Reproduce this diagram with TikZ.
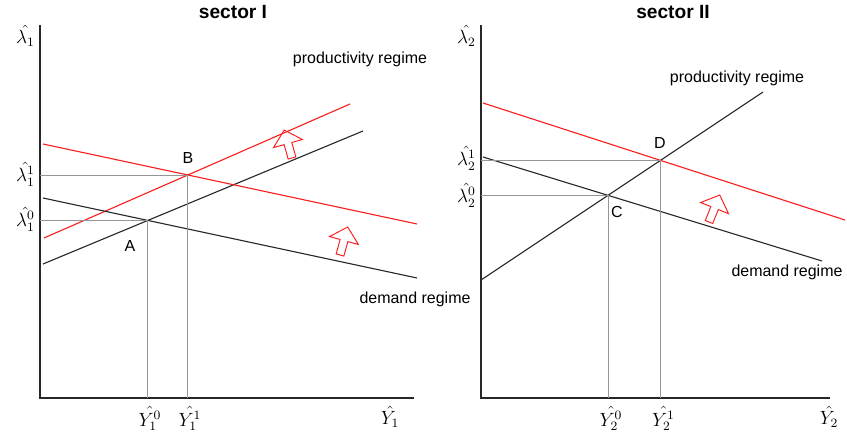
\documentclass[tikz,border=0pt]{standalone}
\usepackage{fontspec}
\setmainfont{Liberation Sans}
\usepackage{amsmath}
\usetikzlibrary{intersections, calc}
\definecolor{cShift}{RGB}{250,30,30}
\definecolor{cBase}{RGB}{40,40,40}
\definecolor{cGuide}{RGB}{150,150,150}
\tikzset{
    axis/.style={line width=0.9pt, draw=cBase},
    regime/.style={line width=0.7pt, draw=cBase},
    shifted/.style={line width=0.7pt, draw=cShift},
    guide/.style={line width=0.6pt, draw=cGuide},
    sectortitle/.style={font=\large\bfseries, inner sep=1pt},
    axislab/.style={font=\large, inner sep=0pt},
    regimelab/.style={font=\normalsize, inner sep=1pt},
    pointlab/.style={font=\normalsize, inner sep=1pt},
    shiftarrow/.pic={
        \draw[cShift, line width=0.6pt, line join=miter]
            (29,0) -- (15,15) -- (15,4) -- (0,4) -- (0,-4)
            -- (15,-4) -- (15,-15) -- cycle;
    },
}

\begin{document}
\begin{tikzpicture}[x=0.022cm, y=-0.022cm]
\useasboundingbox (0,0) rectangle (847,436);

% ============================================================
%  Sector I
% ============================================================
\node[sectortitle] (titleI) at (233,12) {sector I};

\coordinate (originI) at (40,398);
\coordinate (ytopI)   at (40,25);
\coordinate (xendI)   at (414,398);
\draw[axis] (ytopI) -- (originI) -- (xendI);

% regimes: black = initial, red = shifted
\coordinate (pK1a) at (43,264);  \coordinate (pK1b) at (363,131);
\coordinate (pR1a) at (44,238);  \coordinate (pR1b) at (350,104);
\coordinate (dK1a) at (43,198);  \coordinate (dK1b) at (417,278);
\coordinate (dR1a) at (43,144);  \coordinate (dR1b) at (417,224);

\draw[regime,  name path=prodK1] (pK1a) -- (pK1b);
\draw[shifted, name path=prodR1] (pR1a) -- (pR1b);
\draw[regime,  name path=demK1]  (dK1a) -- (dK1b);
\draw[shifted, name path=demR1]  (dR1a) -- (dR1b);

\path[name intersections={of=prodK1 and demK1, by=ptA}];
\path[name intersections={of=prodR1 and demR1, by=ptB}];

% guide lines down to the axes
\draw[guide] (originI |- ptA) -- (ptA);
\draw[guide] (ptA) -- (ptA |- originI);
\draw[guide] (originI |- ptB) -- (ptB);
\draw[guide] (ptB) -- (ptB |- originI);

\node[pointlab] (labA) at (130,246) {A};
\node[pointlab] (labB) at (188,158) {B};

\node[axislab, anchor=east] (lamI)  at (35,36)  {$\hat{\lambda_1}$};
\node[axislab, anchor=east] (lamI1) at (35,174) {$\hat{\lambda^1_1}$};
\node[axislab, anchor=east] (lamI0) at (35,219) {$\hat{\lambda^0_1}$};
\node[axislab, anchor=north] (YI0) at ($(ptA |- originI)+(2,8)$) {$\hat{Y^0_1}$};
\node[axislab, anchor=north] (YI1) at ($(ptB |- originI)+(2,8)$) {$\hat{Y^1_1}$};
\node[axislab, anchor=north] (YI)  at (390,406) {$\hat{Y_1}$};

\node[regimelab] (prodlabI) at (360,59)  {productivity regime};
\node[regimelab] (demlabI)  at (415,299) {demand regime};

\pic[rotate=105.6] (shiftP1) at (292,158) {shiftarrow};
\pic[rotate=74.6]  (shiftD1) at (340,255) {shiftarrow};

% ============================================================
%  Sector II
% ============================================================
\node[sectortitle] (titleII) at (673,12) {sector II};

\coordinate (originII) at (481,398);
\coordinate (ytopII)   at (481,25);
\coordinate (xendII)   at (830,398);
\draw[axis] (ytopII) -- (originII) -- (xendII);

\coordinate (pK2a) at (481,280);  \coordinate (pK2b) at (763,92);
\coordinate (dK2a) at (483,157);  \coordinate (dK2b) at (822,261);
\coordinate (dR2a) at (483,103);  \coordinate (dR2b) at (845,220);

\draw[regime,  name path=prodK2] (pK2a) -- (pK2b);
\draw[regime,  name path=demK2]  (dK2a) -- (dK2b);
\draw[shifted, name path=demR2]  (dR2a) -- (dR2b);

\path[name intersections={of=prodK2 and demK2, by=ptC}];
\path[name intersections={of=prodK2 and demR2, by=ptD}];

\draw[guide] (originII |- ptC) -- (ptC);
\draw[guide] (ptC) -- (ptC |- originII);
\draw[guide] (originII |- ptD) -- (ptD);
\draw[guide] (ptD) -- (ptD |- originII);

\node[pointlab] (labC) at (617,212) {C};
\node[pointlab] (labD) at (660,143) {D};

\node[axislab, anchor=east] (lamII)  at (476,36)  {$\hat{\lambda_2}$};
\node[axislab, anchor=east] (lamII1) at (476,158) {$\hat{\lambda^1_2}$};
\node[axislab, anchor=east] (lamII0) at (476,195) {$\hat{\lambda^0_2}$};
\node[axislab, anchor=north] (YII0) at ($(ptC |- originII)+(3,8)$) {$\hat{Y^0_2}$};
\node[axislab, anchor=north] (YII1) at ($(ptD |- originII)+(3,8)$) {$\hat{Y^1_2}$};
\node[axislab, anchor=north] (YII)  at (829,406) {$\hat{Y_2}$};

\node[regimelab] (prodlabII) at (737,78)  {productivity regime};
\node[regimelab] (demlabII)  at (787,272) {demand regime};

\pic[rotate=68.2] (shiftD2) at (709,222) {shiftarrow};

\end{tikzpicture}
\end{document}
